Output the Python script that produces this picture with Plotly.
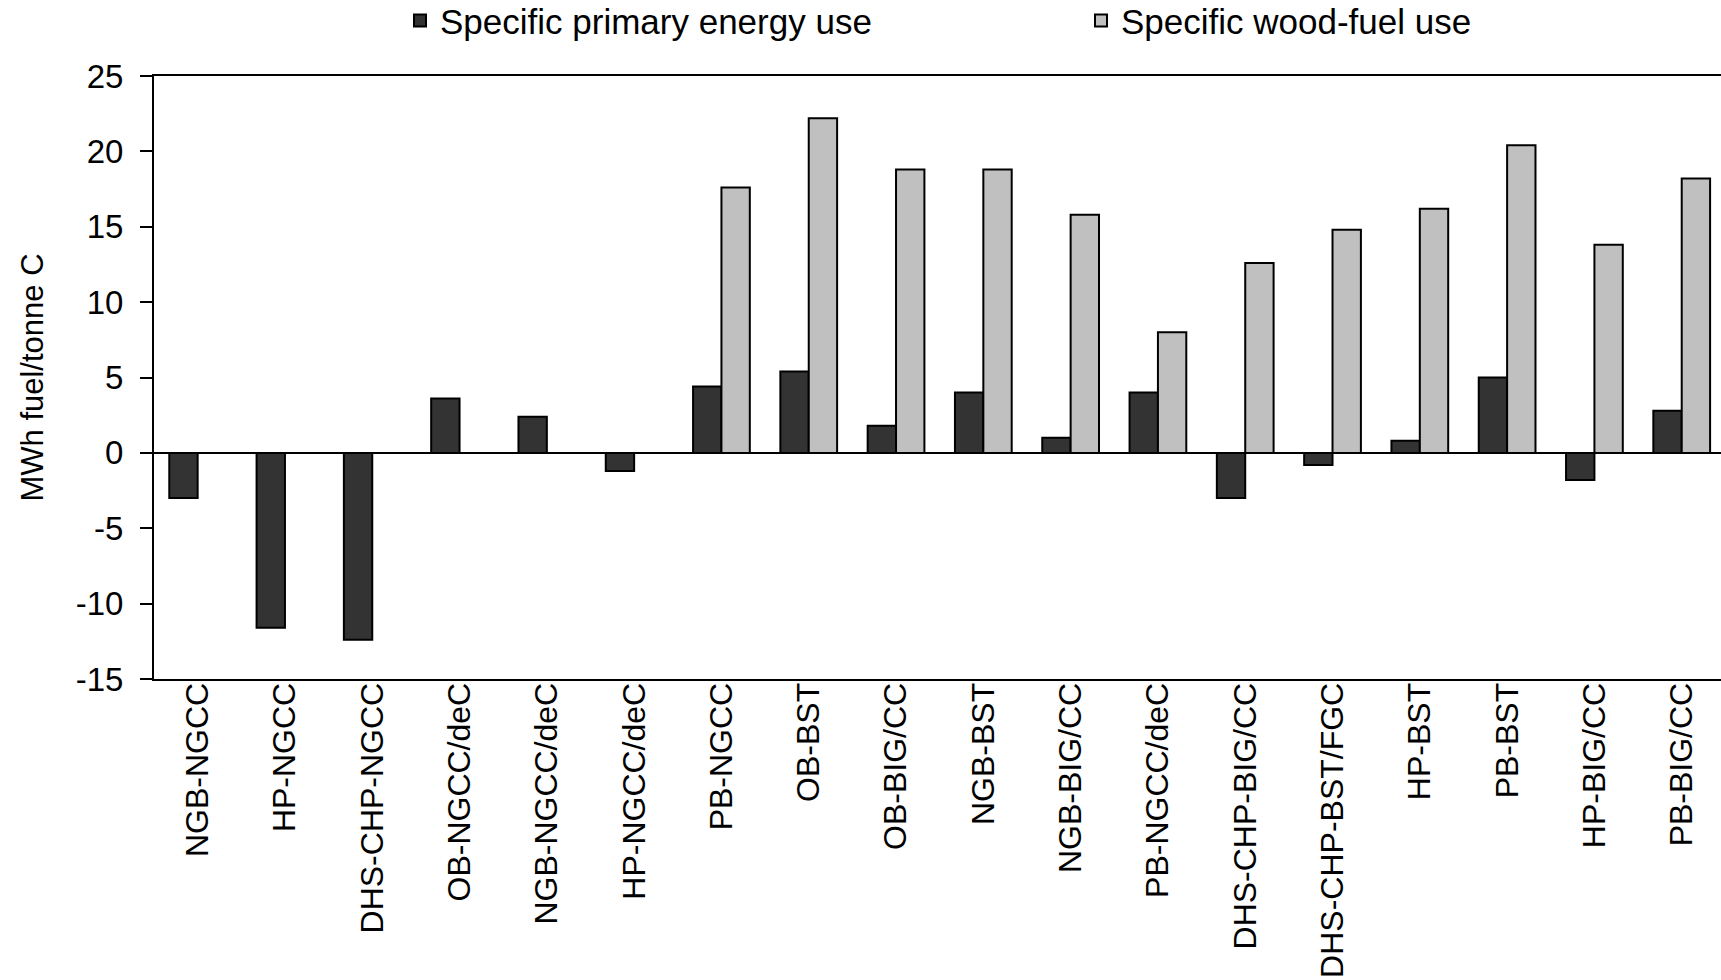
import plotly.graph_objects as go

categories = ["NGB-NGCC", "HP-NGCC", "DHS-CHP-NGCC", "OB-NGCC/deC", "NGB-NGCC/deC",
              "HP-NGCC/deC", "PB-NGCC", "OB-BST", "OB-BIG/CC", "NGB-BST", "NGB-BIG/CC",
              "PB-NGCC/deC", "DHS-CHP-BIG/CC", "DHS-CHP-BST/FGC", "HP-BST", "PB-BST",
              "HP-BIG/CC", "PB-BIG/CC"]
primary_energy = [-3.0, -11.6, -12.4, 3.6, 2.4, -1.2, 4.4, 5.4, 1.8, 4.0, 1.0,
                  4.0, -3.0, -0.8, 0.8, 5.0, -1.8, 2.8]
wood_fuel = [None, None, None, None, None, None, 17.6, 22.2, 18.8, 18.8, 15.8,
             8.0, 12.6, 14.8, 16.2, 20.4, 13.8, 18.2]
series_names = ["Specific primary energy use", "Specific wood-fuel use"]
y_ticks = [-15, -10, -5, 0, 5, 10, 15, 20, 25]
y_tick_labels = ["-15", "-10", "-5", "0", "5", "10", "15", "20", "25"]

FONT = "Liberation Sans, Arial, sans-serif"

fig = go.Figure()
fig.add_trace(go.Bar(x=categories, y=primary_energy, name=series_names[0],
                     marker=dict(color="#333333", line=dict(color="black", width=2))))
fig.add_trace(go.Bar(x=categories, y=wood_fuel, name=series_names[1],
                     marker=dict(color="#C0C0C0", line=dict(color="black", width=2))))

fig.update_layout(
    width=1721, height=980,
    margin=dict(l=154, r=0, t=76, b=301, pad=0, autoexpand=False),
    paper_bgcolor="white", plot_bgcolor="white",
    barmode="group", bargap=0.35, bargroupgap=0,
    font=dict(family=FONT, color="black", size=30),
    legend=dict(orientation="h", x=0.157, xanchor="left", y=1.0918, yanchor="middle",
                font=dict(size=35, family=FONT), entrywidth=636, entrywidthmode="pixels",
                bgcolor="rgba(0,0,0,0)"),
    showlegend=True,
)
fig.update_xaxes(type="category", range=[-0.5, 17.45], tickangle=-90,
                 tickfont=dict(size=32, family=FONT), showline=True, linecolor="black",
                 linewidth=2, mirror=True, ticks="", showgrid=False, zeroline=False,
                 ticklabelstandoff=-11)
fig.update_yaxes(range=[-15, 25], tickvals=y_ticks, ticktext=y_tick_labels,
                 ticks="outside", ticklen=12,
                 tickwidth=2, tickcolor="black", showline=True, linecolor="black",
                 linewidth=2, showgrid=False, zeroline=True, zerolinecolor="black",
                 zerolinewidth=2, tickfont=dict(size=33, family=FONT),
                 ticklabelstandoff=10,
                 title=dict(text="MWh fuel/tonne C", font=dict(size=31, family=FONT),
                            standoff=23))

fig.write_html("out.html")
